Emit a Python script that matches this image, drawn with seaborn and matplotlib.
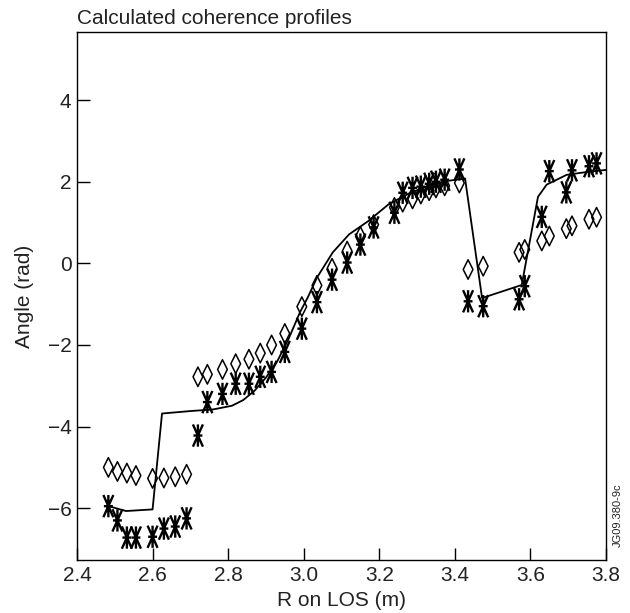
import matplotlib
matplotlib.use("Agg")
import matplotlib.pyplot as plt
from matplotlib.path import Path
import seaborn as sns

# ---------------- data ----------------
r_pts = [2.483, 2.507, 2.532, 2.556, 2.600, 2.630, 2.660, 2.690,
         2.720, 2.745, 2.785, 2.820, 2.855, 2.885, 2.915, 2.950,
         2.995, 3.035, 3.075, 3.115, 3.150, 3.185,
         3.240, 3.262, 3.288, 3.310, 3.332, 3.350, 3.373, 3.412,
         3.435, 3.475, 3.570, 3.585, 3.630, 3.650, 3.695, 3.710, 3.755, 3.775]

diamond_angle = [-5.00, -5.10, -5.14, -5.20, -5.27, -5.26, -5.23, -5.17,
                 -2.78, -2.72, -2.60, -2.46, -2.35, -2.20, -2.00, -1.72,
                 -1.06, -0.54, -0.12, 0.30, 0.66, 0.95,
                 1.37, 1.50, 1.58, 1.70, 1.78, 1.85, 1.90, 1.97,
                 -0.15, -0.07, 0.27, 0.34, 0.55, 0.67, 0.85, 0.92, 1.08, 1.13]

star_angle = [-5.95, -6.30, -6.72, -6.72, -6.70, -6.50, -6.45, -6.25,
              -4.22, -3.40, -3.20, -2.95, -2.95, -2.78, -2.66, -2.17,
              -1.60, -0.95, -0.40, 0.02, 0.46, 0.88,
              1.24, 1.73, 1.85, 1.88, 1.95, 2.00, 2.05, 2.30,
              -0.93, -1.05, -0.88, -0.56, 1.14, 2.26, 1.74, 2.28, 2.38, 2.45]

line_r = [2.483, 2.530, 2.600, 2.625, 2.700, 2.760, 2.810, 2.840, 2.870,
          2.900, 2.930, 2.960, 2.990, 3.010, 3.035, 3.077, 3.120, 3.170,
          3.225, 3.280, 3.330, 3.380, 3.427, 3.472, 3.577, 3.620, 3.643,
          3.696, 3.750, 3.800]
line_angle = [-5.95, -6.07, -6.03, -3.68, -3.62, -3.58, -3.49, -3.35, -3.12,
              -2.80, -2.40, -1.85, -1.20, -0.85, -0.35, 0.27, 0.71, 1.03,
              1.45, 1.72, 1.90, 2.02, 2.08, -0.85, -0.53, 1.63, 1.93,
              2.17, 2.24, 2.29]

x_ticks = [2.4, 2.6, 2.8, 3.0, 3.2, 3.4, 3.6, 3.8]
y_ticks = [-6, -4, -2, 0, 2, 4]

# ---------------- style ----------------
sns.set_style("white")
plt.rcParams['font.family'] = ['Liberation Sans', 'DejaVu Sans']
txt_color = '#222222'

fig = plt.figure(figsize=(6.3, 6.13), dpi=100)
ax = fig.add_axes([77 / 630, 1 - 560 / 613, 529 / 630, 528 / 613])

M, L = Path.MOVETO, Path.LINETO
diamond = Path([(0, 1), (0.5, 0), (0, -1), (-0.5, 0), (0, 1)],
               [M, L, L, L, Path.CLOSEPOLY])
star = Path([(0, -1), (0, 1),
             (-0.45, -1), (0.45, 1),
             (0.45, -1), (-0.45, 1),
             (-0.4, 0), (0.4, 0)],
            [M, L, M, L, M, L, M, L])

sns.lineplot(x=line_r, y=line_angle, sort=False, estimator=None,
             color='black', linewidth=1.3, ax=ax)
sns.scatterplot(x=r_pts, y=diamond_angle, marker=diamond, s=196,
                facecolor='none', edgecolor='black', linewidth=1.1, ax=ax,
                zorder=3)
sns.scatterplot(x=r_pts, y=star_angle, marker=star, s=256,
                facecolor='none', edgecolor='black', linewidth=1.7, ax=ax,
                zorder=4)

ax.set_xlim(2.4, 3.8)
ax.set_ylim(-7.27, 5.67)
ax.set_xticks(x_ticks)
ax.set_xticklabels([f"{v:.1f}" for v in x_ticks])
ax.set_yticks(y_ticks)
ax.set_yticklabels([f"{v:d}".replace('-', '\u2212') for v in y_ticks])

ax.tick_params(direction='in', length=9, width=1, labelsize=15, pad=4,
               colors='black', labelcolor=txt_color,
               bottom=True, left=True, top=False, right=False)
for sp in ax.spines.values():
    sp.set_visible(True)
    sp.set_color('black')
    sp.set_linewidth(1.0)

ax.set_xlabel("R on LOS (m)", fontsize=15, color=txt_color, labelpad=5)
ax.set_ylabel("Angle (rad)", fontsize=15, color=txt_color, labelpad=10)
ax.set_title("Calculated coherence profiles", loc='left', fontsize=15,
             color=txt_color, pad=6)

fig.text(618 / 630, 1 - 515 / 613, "JG09.380-9c", rotation=90, fontsize=8,
         ha='center', va='center', color=txt_color)

fig.savefig("out.png", dpi=100)
